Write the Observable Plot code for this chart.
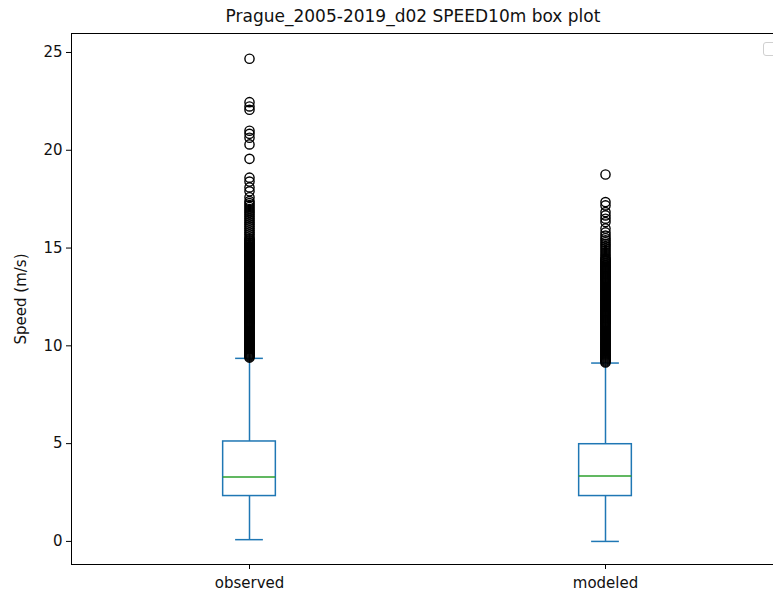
<!DOCTYPE html>
<html>
<head>
<meta charset="utf-8">
<script src="https://cdn.jsdelivr.net/npm/d3@7"></script>
<script src="https://cdn.jsdelivr.net/npm/@observablehq/plot@0.6"></script>
<style>
  html, body { margin: 0; padding: 0; background: #fff; overflow: hidden; }
  #wrap { position: relative; width: 773px; height: 593px; overflow: hidden; font-family: "DejaVu Sans", sans-serif; }
  #title { position: relative; height: 30px; }
  #title span { position: absolute; left: 413px; top: 6px; transform: translateX(-50%); font-size: 17px; color: #111; white-space: nowrap; }
  #legend { position: absolute; left: 763px; top: 42px; width: 24px; height: 12px; border: 1px solid #d0d0d0; border-radius: 3px; background: #fff; }
</style>
</head>
<body>
<div id="wrap">
  <div id="title"><span>Prague_2005-2019_d02 SPEED10m box plot</span></div>
  <div id="chart"></div>
  <div id="legend"></div>
</div>
<script>
// ---- data ----
const categories = ["observed", "modeled"];
const positions = [1, 2];
const q1Values = [2.32, 2.32];
const medianValues = [3.29, 3.34];
const q3Values = [5.11, 4.97];
const lowWhisker = [0.09, 0.0];
const highWhisker = [9.36, 9.12];
const yTicks = [0, 5, 10, 15, 20, 25];

const observedOutliers = [
  9.4, 9.45, 9.5, 9.55, 9.6, 9.65, 9.7, 9.75, 9.8, 9.85, 9.9, 9.95,
  10.0, 10.05, 10.1, 10.15, 10.2, 10.25, 10.3, 10.35, 10.4, 10.45, 10.5, 10.55, 10.6, 10.65, 10.7, 10.75, 10.8, 10.85, 10.9, 10.95,
  11.0, 11.05, 11.1, 11.15, 11.2, 11.25, 11.3, 11.35, 11.4, 11.45, 11.5, 11.55, 11.6, 11.65, 11.7, 11.75, 11.8, 11.85, 11.9, 11.95,
  12.0, 12.05, 12.1, 12.15, 12.2, 12.25, 12.3, 12.35, 12.4, 12.45, 12.5, 12.55, 12.6, 12.65, 12.7, 12.75, 12.8, 12.85, 12.9, 12.95,
  13.0, 13.05, 13.1, 13.15, 13.2, 13.25, 13.3, 13.35, 13.4, 13.45, 13.5, 13.55, 13.6, 13.65, 13.7, 13.75, 13.8, 13.85, 13.9, 13.95,
  14.0, 14.05, 14.1, 14.15, 14.2, 14.25, 14.3, 14.35, 14.4, 14.45, 14.5, 14.55, 14.6, 14.65, 14.7, 14.75, 14.8, 14.85, 14.9, 14.95,
  15.0, 15.05, 15.1, 15.15, 15.2, 15.25, 15.3, 15.35, 15.4, 15.45, 15.5, 15.6, 15.7, 15.8, 15.9,
  16.0, 16.1, 16.2, 16.3, 16.4, 16.5, 16.6, 16.7, 16.8, 16.9, 17.0, 17.1, 17.2, 17.3, 17.4,
  17.6, 17.9, 18.1, 18.4, 18.6,
  19.56, 20.3, 20.64, 20.84, 21.0, 22.07, 22.24, 22.46, 24.68
];
const modeledOutliers = [
  9.15, 9.2, 9.25, 9.3, 9.35, 9.4, 9.45, 9.5, 9.55, 9.6, 9.65, 9.7, 9.75, 9.8, 9.85, 9.9, 9.95,
  10.0, 10.05, 10.1, 10.15, 10.2, 10.25, 10.3, 10.35, 10.4, 10.45, 10.5, 10.55, 10.6, 10.65, 10.7, 10.75, 10.8, 10.85, 10.9, 10.95,
  11.0, 11.05, 11.1, 11.15, 11.2, 11.25, 11.3, 11.35, 11.4, 11.45, 11.5, 11.55, 11.6, 11.65, 11.7, 11.75, 11.8, 11.85, 11.9, 11.95,
  12.0, 12.05, 12.1, 12.15, 12.2, 12.25, 12.3, 12.35, 12.4, 12.45, 12.5, 12.55, 12.6, 12.65, 12.7, 12.75, 12.8, 12.85, 12.9, 12.95,
  13.0, 13.05, 13.1, 13.15, 13.2, 13.25, 13.3, 13.35, 13.4, 13.45, 13.5, 13.55, 13.6, 13.65, 13.7, 13.75, 13.8, 13.85, 13.9, 13.95,
  14.0, 14.05, 14.1, 14.15, 14.2, 14.25, 14.3, 14.35, 14.4, 14.45, 14.5,
  14.6, 14.7, 14.8, 14.9, 15.0, 15.1, 15.2, 15.3, 15.4, 15.5,
  15.64, 15.8, 16.0, 16.33, 16.5, 16.67, 16.84, 17.18, 17.35, 18.76
];

// ---- build tables ----
const boxes = categories.map((name, i) => ({
  name, pos: positions[i], q1: q1Values[i], med: medianValues[i], q3: q3Values[i],
  lo: lowWhisker[i], hi: highWhisker[i]
}));
const fliers = [
  ...observedOutliers.map(v => ({pos: positions[0], v})),
  ...modeledOutliers.map(v => ({pos: positions[1], v}))
];

const BOX = 0.074, CAP = 0.039;
const blue = "#1f77b4", green = "#2ca02c";

const chart = Plot.plot({
  width: 773,
  height: 563,
  marginLeft: 71,
  marginRight: -10,
  marginTop: 3,
  marginBottom: 29,
  style: {fontFamily: "DejaVu Sans, sans-serif", fontSize: "14px", color: "#111", background: "#fff", overflow: "hidden"},
  x: {domain: [0.5, 2.5]},
  y: {domain: [-1.18, 25.97]},
  marks: [
    Plot.axisX({ticks: positions, tickFormat: d => categories[d - 1], tickSize: 5, tickPadding: 8, label: null, fontSize: 15, stroke: "#000"}),
    Plot.axisY({ticks: yTicks, tickSize: 5, tickPadding: 4, fontSize: 15, label: "Speed (m/s)", labelAnchor: "center", labelArrow: "none", labelOffset: 56, stroke: "#000"}),
    Plot.ruleX(boxes, {x: "pos", y1: "q3", y2: "hi", stroke: blue, strokeWidth: 1.5}),
    Plot.ruleX(boxes, {x: "pos", y1: "lo", y2: "q1", stroke: blue, strokeWidth: 1.5}),
    Plot.ruleY(boxes, {y: "hi", x1: d => d.pos - CAP, x2: d => d.pos + CAP, stroke: blue, strokeWidth: 1.5}),
    Plot.ruleY(boxes, {y: "lo", x1: d => d.pos - CAP, x2: d => d.pos + CAP, stroke: blue, strokeWidth: 1.5}),
    Plot.rect(boxes, {x1: d => d.pos - BOX, x2: d => d.pos + BOX, y1: "q1", y2: "q3", fill: "none", stroke: blue, strokeWidth: 1.5}),
    Plot.ruleY(boxes, {y: "med", x1: d => d.pos - BOX, x2: d => d.pos + BOX, stroke: green, strokeWidth: 1.5}),
    Plot.dot(fliers, {x: "pos", y: "v", r: 4.6, stroke: "#000", strokeWidth: 1.4, fill: "none"}),
    Plot.frame({stroke: "#000", strokeWidth: 1})
  ]
});
document.getElementById("chart").appendChild(chart);
</script>
</body>
</html>
